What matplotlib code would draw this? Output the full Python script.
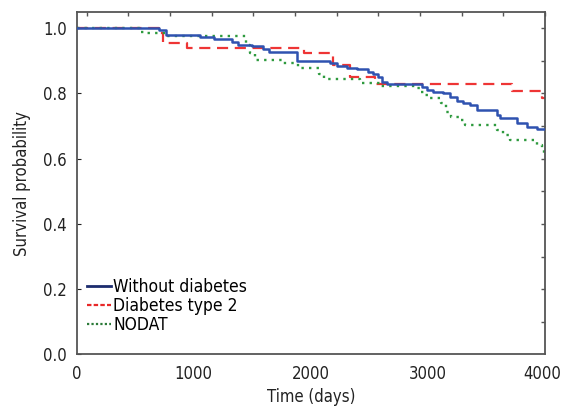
import matplotlib
matplotlib.use("Agg")
import matplotlib.pyplot as plt
import matplotlib.transforms as mtransforms
from matplotlib import font_manager
from matplotlib.lines import Line2D
import numpy as np

# the original uses a condensed face; take one if the system has it
cond = [f for f in font_manager.fontManager.ttflist
        if f.stretch in ('condensed', 'semi-condensed', 'extra-condensed', 'ultra-condensed')
        or 'Condensed' in f.name or 'Narrow' in f.name]
if cond:
    FONT = cond[0].name
    STRETCH = cond[0].stretch
else:
    FONT = 'Liberation Sans'
    STRETCH = 'normal'
plt.rcParams['font.family'] = [FONT, 'DejaVu Sans']
plt.rcParams['font.stretch'] = STRETCH

# Kaplan-Meier steps: (time in days, survival)
blue_t = [0, 700, 760, 1050, 1170, 1330, 1380, 1500, 1590, 1640, 1880, 2160, 2220, 2305,
          2390, 2490, 2530, 2570, 2610, 2650, 2945, 2990, 3045, 3130, 3190, 3245, 3300,
          3360, 3415, 3590, 3615, 3760, 3845, 3930, 4000]
blue_s = [1.0, 0.995, 0.978, 0.973, 0.968, 0.958, 0.950, 0.945, 0.935, 0.926, 0.901, 0.893,
          0.885, 0.879, 0.874, 0.867, 0.859, 0.852, 0.836, 0.828, 0.821, 0.811, 0.806, 0.801,
          0.790, 0.778, 0.770, 0.765, 0.749, 0.734, 0.724, 0.709, 0.697, 0.691, 0.691]

red_t = [0, 700, 740, 940, 1940, 2190, 2330, 2550, 3720, 3975, 4000]
red_s = [1.0, 0.985, 0.956, 0.940, 0.923, 0.887, 0.850, 0.830, 0.809, 0.785, 0.785]

green_t = [0, 540, 600, 770, 1450, 1480, 1520, 1760, 1890, 2070, 2110, 2420, 2590, 2905,
           2930, 2975, 3000, 3115, 3150, 3200, 3275, 3320, 3590, 3645, 3700, 3930, 3975,
           3995, 4000]
green_s = [1.0, 0.990, 0.985, 0.975, 0.949, 0.923, 0.903, 0.893, 0.879, 0.860, 0.846, 0.833,
           0.824, 0.816, 0.805, 0.795, 0.785, 0.770, 0.744, 0.729, 0.719, 0.703, 0.688, 0.673,
           0.657, 0.642, 0.627, 0.605, 0.605]

labels = ['Without diabetes', 'Diabetes type 2', 'NODAT']

fs = 12 if cond else 11.5

fig = plt.figure(figsize=(5.62, 4.08), dpi=100)
ax = fig.add_axes([0.1365, 0.1316, 0.8333, 0.839])

ax.step(blue_t, blue_s, where='post', color='#2F52B0', lw=1.8, zorder=3)
ax.step(red_t, red_s, where='post', color='#EE3535', lw=1.6, ls=(0, (5, 3)), zorder=2)
ax.step(green_t, green_s, where='post', color='#2E9A3E', lw=1.7, ls=(0, (1, 2.2)), zorder=2)

ax.set_xlim(0, 4000)
ax.set_ylim(0, 1.05)
ax.set_xticks([0, 1000, 2000, 3000, 4000])
ax.set_yticks(np.arange(0, 1.01, 0.2))
ax.set_yticklabels(['0.0', '0.2', '0.4', '0.6', '0.8', '1.0'])
ax.tick_params(axis='x', length=0, labelsize=fs, pad=8, colors='#222222')
ax.tick_params(axis='y', direction='in', length=3, labelsize=fs, pad=7, colors='#222222')
ax.set_xlabel('Time (days)', fontsize=fs, color='#222222', labelpad=3)
ax.set_ylabel('Survival probability', fontsize=fs, color='#222222', labelpad=9)

# last x label sits a little inside the right edge, as in the original
last = ax.get_xticklabels()[-1]
last.set_transform(last.get_transform() +
                   mtransforms.ScaledTranslation(-3 / 100, 0, fig.dpi_scale_trans))

for sp in ax.spines.values():
    sp.set_color('#555555')
    sp.set_linewidth(1.3)

top = ax.secondary_xaxis('top')
top.set_xticks(np.linspace(85, 4000, 12))
top.set_xticklabels([])
top.tick_params(direction='in', length=3, width=1, color='#555555')
top.spines['top'].set_visible(False)

right = ax.secondary_yaxis('right')
right.set_yticks(np.arange(0.1, 1.01, 0.1))
right.set_yticklabels([])
right.tick_params(direction='in', length=3, width=1, color='#555555')
right.spines['right'].set_visible(False)

handles = [Line2D([], [], color='#1C2C6E', lw=2),
           Line2D([], [], color='#E82828', lw=1.6, ls=(0, (2, 1))),
           Line2D([], [], color='#2B7A38', lw=1.6, ls=(0, (1, 1)))]
ax.legend(handles, labels, loc='lower left', frameon=False, fontsize=fs + 0.5,
          handlelength=1.4, handletextpad=0.1, labelspacing=0.05,
          borderaxespad=0.2, bbox_to_anchor=(0.0, 0.03))

fig.savefig('out.png', dpi=100)
